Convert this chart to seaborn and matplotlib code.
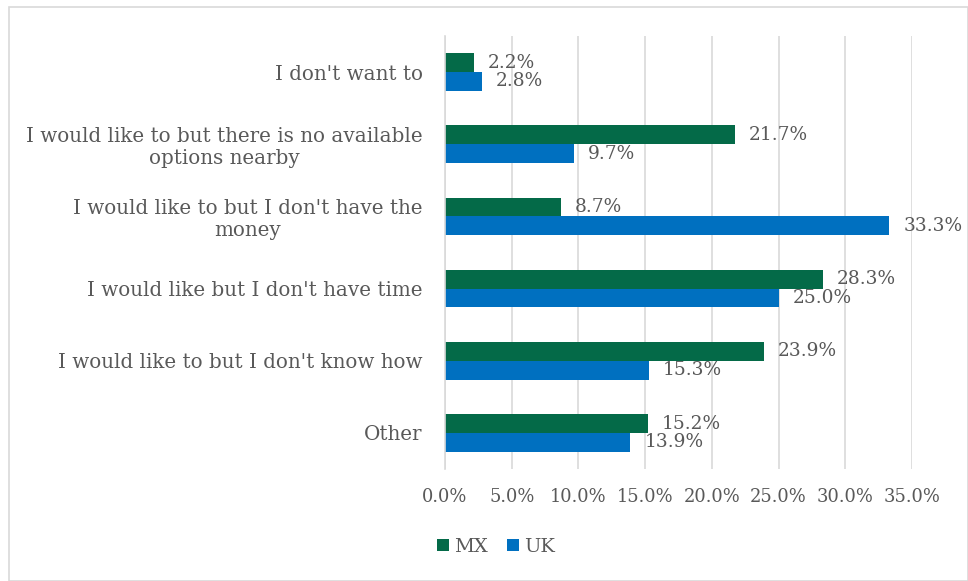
import matplotlib
matplotlib.use("Agg")
import matplotlib.pyplot as plt
import seaborn as sns
import pandas as pd
from matplotlib.patches import Rectangle

categories = [
    "I don't want to",
    "I would like to but there is no available\noptions nearby",
    "I would like to but I don't have the\nmoney",
    "I would like but I don't have time",
    "I would like to but I don't know how",
    "Other",
]
series_names = ["MX", "UK"]
mx_values = [2.2, 21.7, 8.7, 28.3, 23.9, 15.2]
uk_values = [2.8, 9.7, 33.3, 25.0, 15.3, 13.9]
x_ticks = [0, 5, 10, 15, 20, 25, 30, 35]

colors = {"MX": "#046A48", "UK": "#0070C0"}
text_color = "#595959"

df = pd.DataFrame({
    "category": categories * 2,
    "country": ["MX"] * len(categories) + ["UK"] * len(categories),
    "value": mx_values + uk_values,
})

sns.set_theme(style="white")
plt.rcParams["font.family"] = ["DejaVu Serif"]

fig = plt.figure(figsize=(9.68, 5.81), dpi=100)
ax = fig.add_axes([445 / 968, 1 - 469 / 581, (912 - 445) / 968, (469 - 36) / 581])

sns.barplot(data=df, y="category", x="value", hue="country", order=categories,
            hue_order=series_names, palette=colors, orient="h", width=0.52,
            saturation=1, linewidth=0, ax=ax, legend=True)

ax.set_xlim(0, 35)
ax.set_xticks(x_ticks)
ax.set_xticklabels([f"{t:.1f}%" for t in x_ticks], color=text_color, fontsize=12.9)
ax.tick_params(axis="x", length=0, pad=14)
ax.tick_params(axis="y", length=0, pad=16)
for lbl in ax.get_yticklabels():
    lbl.set_color(text_color)
    lbl.set_fontsize(14.3)
    lbl.set_multialignment("center")
ax.set_xlabel("")
ax.set_ylabel("")
ax.grid(axis="x", color="#D9D9D9", linewidth=1.2)
ax.set_axisbelow(True)
for side in ["top", "right", "bottom"]:
    ax.spines[side].set_visible(False)
ax.spines["left"].set_color("#D9D9D9")
ax.spines["left"].set_linewidth(1.2)

for container, name in zip(ax.containers, series_names):
    ax.bar_label(container, labels=[f"{v:.1f}%" for v in container.datavalues],
                 padding=10, color=text_color, fontsize=13.4)

handles, labels = ax.get_legend_handles_labels()
ax.legend(handles, labels, loc="center", bbox_to_anchor=(496 / 968, 1 - 547 / 581),
          bbox_transform=fig.transFigure, ncol=2, frameon=False, fontsize=14,
          handlelength=0.6, handleheight=0.6, handletextpad=0.25, columnspacing=1.0,
          labelcolor=text_color)

# chart border
fig.patches.append(Rectangle((9 / 968, 0), 1 - 9 / 968, 1 - 7 / 581,
                             transform=fig.transFigure, fill=False,
                             edgecolor="#D9D9D9", linewidth=1.2))

fig.savefig("out.png", dpi=100, facecolor="white")
